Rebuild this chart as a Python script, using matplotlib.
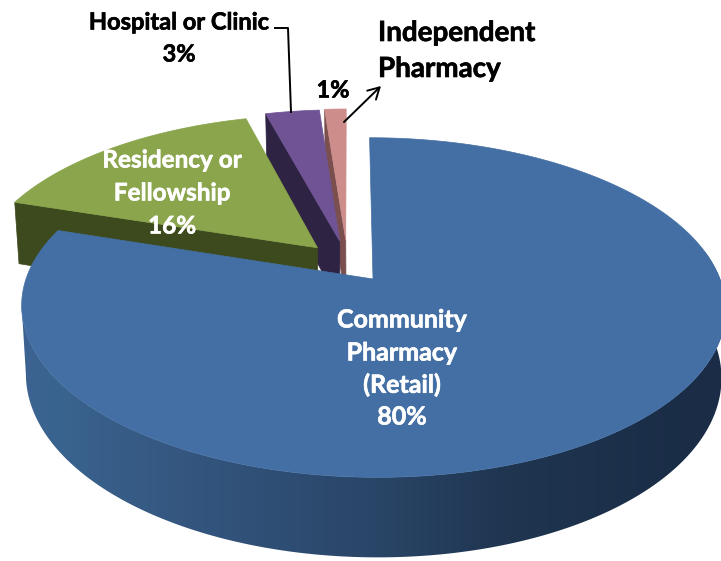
import numpy as np
import matplotlib
matplotlib.use("Agg")
import matplotlib.pyplot as plt
import matplotlib.patheffects as pe
from matplotlib.patches import Polygon

plt.rcParams['font.family'] = ['Lato', 'DejaVu Sans']

# pie data
categories = ['Community\nPharmacy\n(Retail)', 'Residency or\nFellowship', 'Hospital or Clinic', 'Independent\nPharmacy']
values = [80, 16, 3, 1]  # printed labels
shares = [80, 15.8, 3.0, 1.2]  # slice sizes
explode = [0.125, 0.13, 0.14, 0.145]
top_colors = ['#446fa4', '#8aa54c', '#6f5394', '#cd8d8b']
cut_colors = ['#2a4668', '#3c4a1e', '#2e2342', '#7a4f4e']

# side shading of the big slice, left to right across the picture
side_x = [20, 50, 185, 370, 510, 700]
side_r = [60, 58, 52, 42, 31, 26]
side_g = [98, 100, 86, 70, 53, 44]
side_b = [144, 144, 127, 104, 80, 70]

# fake 3d camera
CX, CY = 373, 279
A, B = 347, 165
K = 0.168
DEPTH = 66.6
SKEW = 4


def project(x, y, level=0.0):
    w = 1 + K * y
    sx = CX + A * x / w * (1 - 0.012 * level) - SKEW * y / w
    sy = CY - B * y / w + DEPTH * level / w
    return sx, sy


def direction(deg):
    t = np.radians(deg)
    return np.sin(t), np.cos(t)


fig = plt.figure(figsize=(7.21, 5.61), dpi=100)
ax = fig.add_axes([0, 0, 1, 1])

edges = np.cumsum([0] + shares) / sum(shares) * 360
bx, by = direction((edges[0] + edges[1]) / 2)
ox, oy = -explode[0] * bx, -explode[0] * by

slices = []
for i in range(len(shares)):
    mx, my = direction((edges[i] + edges[i + 1]) / 2)
    slices.append((ox + explode[i] * mx, oy + explode[i] * my, edges[i], edges[i + 1]))


def arc_points(ax0, ay0, t0, t1, level=0.0):
    ts = np.linspace(t0, t1, max(int(t1 - t0) * 2, 6))
    dx, dy = direction(ts)
    return np.array(project(ax0 + dx, ay0 + dy, level)).T


def silhouette(ax0, ay0, t0, t1, level):
    # arc cut off at its leftmost point, so the wall has a clean outline
    pts = arc_points(ax0, ay0, t0, t1, level)
    return pts[:np.argmin(pts[:, 0]) + 1]


def draw_slice(i, zorder):
    ax0, ay0, t0, t1 = slices[i]
    apex = np.array(project(ax0, ay0))
    apex_low = np.array(project(ax0, ay0, 1))

    if i == 0:
        # outer wall of the big slice, horizontal gradient clipped to the wall
        xs = np.arange(0, 721)
        grad = np.stack([np.interp(xs, side_x, side_r), np.interp(xs, side_x, side_g),
                         np.interp(xs, side_x, side_b)], axis=1)[None, :, :] / 255
        top = silhouette(ax0, ay0, 80, t1, 0)
        low = silhouette(ax0, ay0, 80, t1, 1)
        im = ax.imshow(grad, extent=(0, 721, 561, 0), aspect='auto', zorder=zorder,
                       interpolation='bilinear')
        wall = Polygon(np.vstack([top, low[::-1]]), closed=True, transform=ax.transData)
        im.set_clip_path(wall)
    else:
        # cut face on the left of the slice
        dx, dy = direction(t0)
        outer = np.array(project(ax0 + dx, ay0 + dy))
        outer_low = np.array(project(ax0 + dx, ay0 + dy, 1))
        ax.add_patch(Polygon([outer, apex, apex_low, outer_low], closed=True,
                             fc=cut_colors[i], ec=cut_colors[i], lw=0.5, zorder=zorder))

    rim = arc_points(ax0, ay0, t0, t1)
    ax.add_patch(Polygon(np.vstack([apex, rim]), closed=True, fc=top_colors[i],
                         ec=top_colors[i], lw=0.5, zorder=zorder + 0.5))


draw_slice(3, 1)
draw_slice(2, 2)
draw_slice(1, 3)
draw_slice(0, 4)

ax.set_xlim(0, 721)
ax.set_ylim(561, 0)
ax.axis('off')


def label(x, y, s, size, color='black', ha='center', bold=0.45):
    ax.text(x, y, s, color=color, fontweight='bold', fontsize=size, ha=ha, va='center', zorder=10,
            path_effects=[pe.withStroke(linewidth=bold, foreground=color)])


for y, s in zip([320, 353, 385], categories[0].split('\n')):
    label(402, y, s, 18, 'white')
label(402, 417, f'{values[0]}%', 18, 'white')

for y, s in zip([160, 193], categories[1].split('\n')):
    label(172, y, s, 17.5, 'white')
label(172, 226, f'{values[1]}%', 17.5, 'white')

label(179, 22, categories[2], 17)
label(179, 54, f'{values[2]}%', 17)

ind = categories[3].split('\n')
label(378, 33, ind[0], 20, ha='left')
label(378, 69, ind[1], 20, ha='left')
label(333, 90, f'{values[3]}%', 17)

# leader lines
ax.plot([275, 288, 291], [28, 28, 112], color='black', lw=1.4, zorder=9)
ax.annotate('', xy=(381, 86), xytext=(344, 122), zorder=9,
            arrowprops=dict(arrowstyle='->,head_length=0.8,head_width=0.45', color='black', lw=1.4,
                            shrinkA=0, shrinkB=0))

fig.savefig('out.png', dpi=100)
